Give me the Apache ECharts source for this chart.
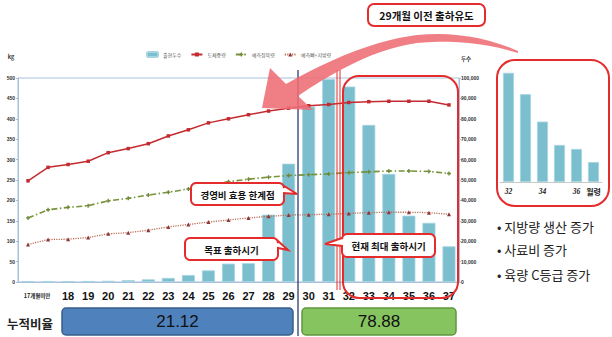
<!DOCTYPE html>
<html><head><meta charset="utf-8">
<script src="https://cdn.jsdelivr.net/npm/echarts@6/dist/echarts.min.js"></script>
<style>html,body{margin:0;padding:0;background:#fff;}#c{width:612px;height:337px;}</style>
</head><body><div id="c"></div>
<script>
// ---- data ----
const categories = ['17개월미만','17','18','19','20','21','22','23','24','25','26','27','28','29','30','31','32','33','34','35','36','37'];
const tickLabels = ['17개월미만','','18','19','20','21','22','23','24','25','26','27','28','29','30','31','32','33','34','35','36','37'];
const headCount = [400, 300, 400, 500, 600, 900, 1300, 2000, 3400, 5700, 9000, 9200, 33000, 58000, 86000, 99500, 95800, 77000, 53000, 32500, 29000, 17500];
const carcassWeight = [248, 281, 288, 296, 317, 327, 339, 358, 373, 390, 400, 410, 419, 426, 432, 435, 440, 442, 443, 443, 443, 434];
const leanYield = [157, 177, 183, 187, 199, 205, 213, 220, 228, 237, 246, 252, 257, 261, 263, 265, 268, 270, 272, 272, 271, 266];
const boneFat = [92, 104, 105, 109, 118, 121, 127, 135, 141, 147, 152, 157, 161, 164, 165, 166, 168, 170, 171, 171, 170, 166];
const seriesNames = ['출현두수', '도체중량', '예측정육량', '예측뼈+지방량'];
const leftAxisMax = 500, leftAxisStep = 50;
const rightAxisMax = 100000, rightAxisStep = 10000;
const insetFrom = 16;
const insetLabels = ['32', '', '34', '', '36', '월령'];
const ratioValues = ['21.12', '78.88'];
const ratioTitle = '누적비율';
const calloutTexts = ['29개월 이전 출하유도', '경영비 효용 한계점', '목표 출하시기', '현재 최대 출하시기'];
const notes = ['지방량 생산 증가', '사료비 증가', '육량 C등급 증가'];

// ---- helpers for decorations ----
const KR = "'Noto Sans CJK KR', 'Noto Sans', sans-serif";
const NARROW = "'Liberation Sans Narrow', 'Arial Narrow', 'Liberation Sans', sans-serif";
const RED = '#E52B2B';
function arc(cx, cy, r, a0, a1, n) {
  const p = [];
  for (let i = 0; i <= n; i++) { const a = a0 + (a1 - a0) * i / n; p.push([cx + r * Math.cos(a), cy + r * Math.sin(a)]); }
  return p;
}
function callout(x, y, w, h, r, side, y1, y2, tx, ty) {
  const P = Math.PI; let pts = [];
  pts = pts.concat(arc(x + r, y + r, r, P, 1.5 * P, 5));
  pts = pts.concat(arc(x + w - r, y + r, r, 1.5 * P, 2 * P, 5));
  if (side === 'right') pts.push([x + w, y1], [tx, ty], [x + w, y2]);
  pts = pts.concat(arc(x + w - r, y + h - r, r, 0, 0.5 * P, 5));
  pts = pts.concat(arc(x + r, y + h - r, r, 0.5 * P, P, 5));
  if (side === 'left') pts.push([x, y2], [tx, ty], [x, y1]);
  return pts;
}
function quad(a, c, b, n) {
  const p = [];
  for (let i = 0; i <= n; i++) { const t = i / n, u = 1 - t;
    p.push([u*u*a[0] + 2*u*t*c[0] + t*t*b[0], u*u*a[1] + 2*u*t*c[1] + t*t*b[1]]); }
  return p;
}
const arrowPts = [].concat(
  quad([518, 51], [470, 30], [417, 35], 10),
  quad([417, 35], [360, 42], [286, 84], 12),
  [[270, 68], [262, 108], [313, 110], [298, 96]],
  quad([298, 96], [365, 50], [417, 43], 12),
  quad([417, 43], [470, 38], [518, 53], 10)
);
function txt(x, y, text, font, fill, align, extra) {
  return Object.assign({ type: 'text', z: 120, x: x, y: y,
    style: { text: text, font: font, fill: fill || '#111', textAlign: align || 'center', align: align || 'center',
      textVerticalAlign: 'middle', verticalAlign: 'middle' } }, extra || {});
}

const graphics = [
  { type: 'line', z: 90, shape: { x1: 298, y1: 70, x2: 298, y2: 336 }, style: { stroke: '#2F3B70', lineWidth: 1.3 } },
  { type: 'line', z: 90, shape: { x1: 337, y1: 70, x2: 337, y2: 290 }, style: { stroke: RED, lineWidth: 1 } },
  { type: 'line', z: 90, shape: { x1: 340, y1: 70, x2: 340, y2: 290 }, style: { stroke: RED, lineWidth: 1 } },
  { type: 'rect', z: 90, shape: { x: 343, y: 76, width: 115, height: 222, r: 16 }, style: { fill: 'none', stroke: RED, lineWidth: 2 } },
  { type: 'rect', z: 90, shape: { x: 497, y: 60, width: 112, height: 146, r: 18 }, style: { fill: 'none', stroke: RED, lineWidth: 2 } },
  { type: 'polygon', z: 110, shape: { points: arrowPts }, style: { fill: 'rgba(238,108,116,0.88)' } },
  { type: 'rect', z: 100, shape: { x: 368, y: 4, width: 117, height: 22, r: 6 }, style: { fill: '#fff', stroke: RED, lineWidth: 2 } },
  txt(426.5, 15.5, calloutTexts[0], "bold 10.5px " + KR, '#111'),
  { type: 'polygon', z: 100, shape: { points: callout(191, 183, 93, 22, 5, 'right', 186, 193, 297, 194) }, style: { fill: '#fff', stroke: RED, lineWidth: 2 } },
  txt(237.5, 194.5, calloutTexts[1], "bold 9.5px " + KR, '#111'),
  { type: 'polygon', z: 100, shape: { points: callout(185, 238, 93, 22, 5, 'right', 241, 248, 288, 250) }, style: { fill: '#fff', stroke: RED, lineWidth: 2 } },
  txt(231.5, 249.5, calloutTexts[2], "bold 9.5px " + KR, '#111'),
  { type: 'polygon', z: 100, shape: { points: callout(342, 234, 93, 23, 5, 'left', 238, 246, 325, 244) }, style: { fill: '#fff', stroke: RED, lineWidth: 2 } },
  txt(388.5, 246, calloutTexts[3], "bold 9.5px " + KR, '#111'),
  { type: 'rect', z: 100, shape: { x: 62, y: 308, width: 231, height: 27, r: 4 }, style: { fill: '#4F81BD', stroke: '#385D8A', lineWidth: 1.5 } },
  txt(177.5, 321.5, ratioValues[0], "17px " + NARROW, '#111'),
  { type: 'rect', z: 100, shape: { x: 302, y: 308, width: 154, height: 27, r: 4 }, style: { fill: '#86C45F', stroke: '#5E9640', lineWidth: 1.5 } },
  txt(379, 321.5, ratioValues[1], "17px " + NARROW, '#111'),
  txt(7, 323, ratioTitle, "bold 12.5px " + KR, '#222', 'left'),
  txt(11, 57, 'kg', "bold 5.5px " + KR, '#333'),
  txt(466, 59, '두수', "bold 5.5px " + KR, '#333'),
  txt(497, 226, '• ' + notes[0], "13px " + KR, '#222', 'left'),
  txt(497, 249, '• ' + notes[1], "13px " + KR, '#222', 'left'),
  txt(497, 274, '• ' + notes[2], "13px " + KR, '#222', 'left')
];

const chart = echarts.init(document.getElementById('c'), null, { renderer: 'svg' });
const option = {
  animation: false,
  backgroundColor: '#fff',
  legend: {
    left: 141, top: 46, itemWidth: 11, itemHeight: 5, itemGap: 9,
    textStyle: { fontSize: 5, color: '#595959', fontFamily: KR },
    data: seriesNames
  },
  grid: [
    { left: 18, right: 153, top: 78, bottom: 55, show: true, borderColor: '#A9C0DC', borderWidth: 1, backgroundColor: 'transparent' },
    { left: 500, width: 102, top: 68, height: 114 }
  ],
  xAxis: [
    { type: 'category', gridIndex: 0, data: categories,
      axisLine: { lineStyle: { color: '#A9C0DC' } }, axisTick: { show: false },
      axisLabel: { interval: 0, margin: 8, hideOverlap: false,
        formatter: function (v, i) { const t = tickLabels[i]; if (!t) return ''; return i === 0 ? '{s|' + t + '}' : '{n|' + t + '}'; },
        rich: {
          s: { fontSize: 5.5, fontFamily: KR, fontWeight: 'bold', color: '#222', padding: [0, 0, 0, 18], lineHeight: 12 },
          n: { fontSize: 11, fontFamily: NARROW, fontWeight: 'bold', color: '#111', lineHeight: 12 }
        } } },
    { type: 'category', gridIndex: 1, data: categories.slice(insetFrom),
      axisLine: { lineStyle: { color: '#C8C8C8' } }, axisTick: { show: false },
      axisLabel: { interval: 0, margin: 5,
        formatter: function (v, i) { const t = insetLabels[i]; if (!t) return ''; return i === insetLabels.length - 1 ? '{k|' + t + '}' : '{n|' + t + '}'; },
        rich: {
          n: { fontSize: 7.5, fontStyle: 'italic', fontWeight: 'bold', fontFamily: "'Liberation Serif', serif", color: '#222' },
          k: { fontSize: 8, fontWeight: 'bold', fontFamily: KR, color: '#222' }
        } } }
  ],
  yAxis: [
    { type: 'value', gridIndex: 0, min: 0, max: leftAxisMax, interval: leftAxisStep,
      axisLine: { show: true, lineStyle: { color: '#A9C0DC' } },
      axisTick: { show: true, length: 2, lineStyle: { color: '#A9C0DC' } },
      splitLine: { show: false },
      axisLabel: { fontSize: 5, fontWeight: 'bold', color: '#333', margin: 3, fontFamily: 'Liberation Sans' } },
    { type: 'value', gridIndex: 0, position: 'right', min: 0, max: rightAxisMax, interval: rightAxisStep,
      axisLine: { show: true, lineStyle: { color: '#A9C0DC' } },
      axisTick: { show: true, length: 2, lineStyle: { color: '#A9C0DC' } },
      splitLine: { show: false },
      axisLabel: { fontSize: 5, fontWeight: 'bold', color: '#333', margin: 2, fontFamily: 'Liberation Sans' } },
    { type: 'value', gridIndex: 2 - 1, min: 0, max: rightAxisMax, show: false, splitLine: { show: false } }
  ],
  series: [
    { name: seriesNames[0], type: 'bar', xAxisIndex: 0, yAxisIndex: 1, data: headCount, barWidth: 13,
      itemStyle: { color: '#7BBFCE', borderColor: '#A6D4E0', borderWidth: 0.8 } },
    { name: seriesNames[1], type: 'line', xAxisIndex: 0, yAxisIndex: 0, data: carcassWeight,
      symbol: 'rect', symbolSize: 3.5, lineStyle: { color: '#C42B30', width: 1.5 }, itemStyle: { color: '#C42B30' } },
    { name: seriesNames[2], type: 'line', xAxisIndex: 0, yAxisIndex: 0, data: leanYield,
      symbol: 'path://M2,0h2v2h2v2h-2v2h-2v-2h-2v-2h2z', symbolSize: 4,
      lineStyle: { color: '#77933C', width: 1.6, type: [6, 2.5, 1.5, 2.5] }, itemStyle: { color: '#6E8A34' } },
    { name: seriesNames[3], type: 'line', xAxisIndex: 0, yAxisIndex: 0, data: boneFat,
      symbol: 'triangle', symbolSize: 4, lineStyle: { color: '#BA6E58', width: 1.3, type: [1.2, 1.2] }, itemStyle: { color: '#8E3538' } },
    { name: 'inset', type: 'bar', xAxisIndex: 1, yAxisIndex: 2, data: headCount.slice(insetFrom), barWidth: 11,
      itemStyle: { color: '#7BBFCE', borderColor: '#A6D4E0', borderWidth: 0.8 } }
  ],
  graphic: graphics
};
chart.setOption(option);
</script>
</body></html>
